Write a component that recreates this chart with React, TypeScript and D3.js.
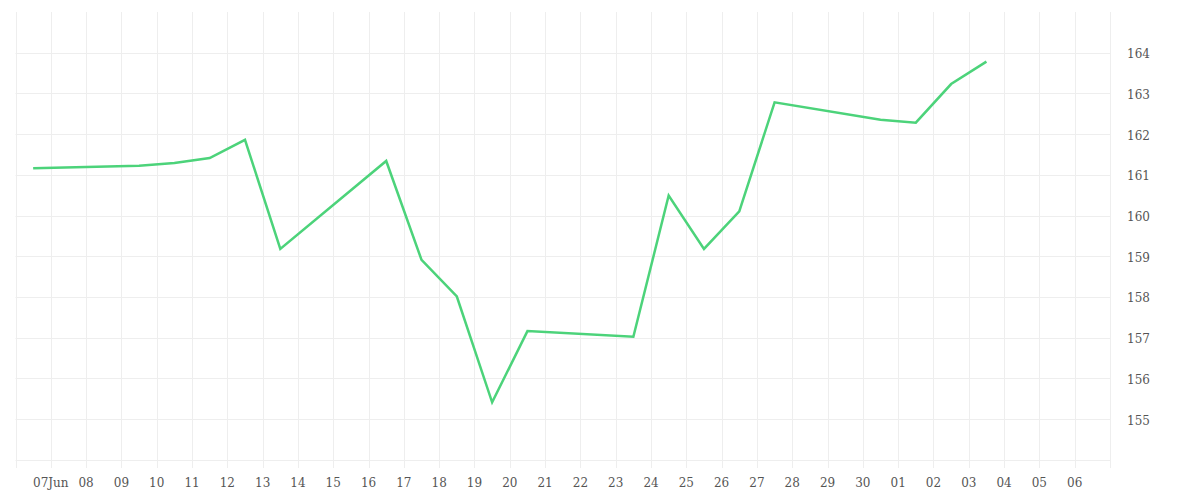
import React from "react";
import * as d3 from "d3";

const dates: string[] = [
  "2025-06-06T12:00", "2025-06-09T12:00", "2025-06-10T12:00", "2025-06-11T12:00",
  "2025-06-12T12:00", "2025-06-13T12:00", "2025-06-16T12:00", "2025-06-17T12:00",
  "2025-06-18T12:00", "2025-06-19T12:00", "2025-06-20T12:00", "2025-06-23T12:00",
  "2025-06-24T12:00", "2025-06-25T12:00", "2025-06-26T12:00", "2025-06-27T12:00",
  "2025-06-30T12:00", "2025-07-01T12:00", "2025-07-02T12:00", "2025-07-03T12:00",
];
const values: number[] = [
  161.16, 161.22, 161.29, 161.41, 161.86, 159.18, 161.34, 158.91, 158.01, 155.41,
  157.16, 157.02, 160.49, 159.18, 160.1, 162.78, 162.35, 162.28, 163.23, 163.78,
];
const yTicks: number[] = [155, 156, 157, 158, 159, 160, 161, 162, 163, 164];
const yGrid: number[] = [154, 155, 156, 157, 158, 159, 160, 161, 162, 163, 164];
const xStart = "2025-06-06T00:00";
const xEnd = "2025-07-07T00:00";

export default function App() {
  const W = 1200;
  const H = 500;
  const left = 15.5;
  const right = 1110;
  const top = 12;
  const bottom = 459.7;

  const parse = (s: string) => new Date(s);
  const x = d3.scaleTime().domain([parse(xStart), parse(xEnd)]).range([left, right]);
  const y = d3.scaleLinear().domain([154, 165]).range([bottom, top]);

  const days = d3.timeDay.range(parse(xStart), d3.timeDay.offset(parse(xEnd), 1));
  const labelDays = days.slice(1, days.length - 1);
  const fmt = (d: Date) => {
    const dd = d3.timeFormat("%d")(d);
    if (d.getMonth() === 5 && d.getDate() === 7) return dd + d3.timeFormat("%b")(d);
    return dd;
  };

  const pts = dates.map((d, i) => [parse(d), values[i]] as [Date, number]);
  const line = d3
    .line<[Date, number]>()
    .x((d) => x(d[0]))
    .y((d) => y(d[1]));

  const grid = "#eeeeee";
  const font = "'DejaVu Serif', serif";
  const textFill = "#555";
  return (
    <svg width={W} height={H} style={{ display: "block", position: "absolute", left: 0, top: 0 }}>
      <rect width={W} height={H} fill="#ffffff" />
      {yGrid.map((v) => (
        <line key={"h" + v} x1={left} x2={right} y1={Math.round(y(v)) + 0.5} y2={Math.round(y(v)) + 0.5} stroke={grid} strokeWidth={1} />
      ))}
      {days.map((d, i) => {
        const xx = Math.round(x(d)) + 0.5;
        return <line key={"v" + i} x1={xx} x2={xx} y1={top} y2={468} stroke={grid} strokeWidth={1} />;
      })}
      {labelDays.map((d, i) => (
        <text key={"xl" + i} x={x(d)} y={483} textAnchor="middle" dominantBaseline="central" fontSize={12} fontFamily={font} fill={textFill}>
          {fmt(d)}
        </text>
      ))}
      {yTicks.map((v) => (
        <text key={"yl" + v} x={1127} y={y(v) + 1.5} dominantBaseline="central" fontSize={12} fontFamily={font} fill={textFill}>
          {v}
        </text>
      ))}
      <path d={line(pts) || ""} fill="none" stroke="#4cd37a" strokeWidth={2.5} strokeLinejoin="miter" />
    </svg>
  );
}
